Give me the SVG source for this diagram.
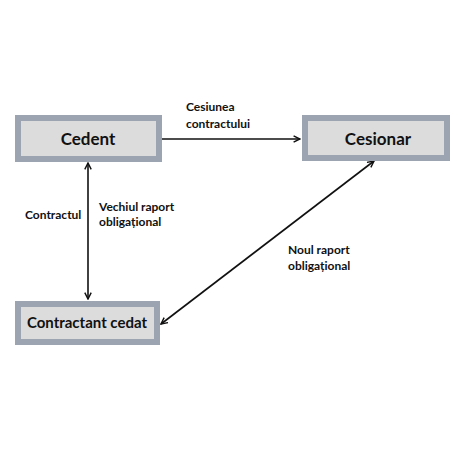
<svg xmlns="http://www.w3.org/2000/svg" width="474" height="474" viewBox="0 0 474 474">
<style>
.box{fill:#dcdcdc;stroke:#9ba4b0;stroke-width:6}
.nt{font-family:Lato,"Open Sans",sans-serif;font-weight:bold;font-size:17px;fill:#111;text-anchor:middle}
.lb{font-family:Lato,"Open Sans",sans-serif;font-weight:bold;font-size:12px;fill:#111}
.ln{stroke:#111;stroke-width:1.6;fill:none}
</style>
<defs>
<marker id="ah" viewBox="0 0 10 10" refX="9" refY="5" markerWidth="8" markerHeight="8" orient="auto-start-reverse" markerUnits="userSpaceOnUse">
<path d="M1,1 L9,5 L1,9" fill="none" stroke="#111" stroke-width="1.8"/>
</marker>
</defs>
<rect width="474" height="474" fill="#fff"/>
<g id="connectors">
<line class="ln" x1="162" y1="139" x2="300" y2="139" marker-end="url(#ah)"/>
<line class="ln" x1="88" y1="163" x2="88" y2="299" marker-start="url(#ah)" marker-end="url(#ah)"/>
<line class="ln" x1="374" y1="161" x2="161" y2="324" marker-start="url(#ah)" marker-end="url(#ah)"/>
</g>
<g id="cedent">
<rect class="box" x="18" y="118" width="141" height="41"/>
<text class="nt" x="88" y="145">Cedent</text>
</g>
<g id="cesionar">
<rect class="box" x="305" y="118" width="142" height="40"/>
<text class="nt" x="378" y="145">Cesionar</text>
</g>
<g id="contractant">
<rect class="box" x="18" y="304" width="139" height="38"/>
<text class="nt" x="87" y="328" style="font-size:15px">Contractant cedat</text>
</g>
<g id="labels">
<text class="lb" x="186" y="111">Cesiunea</text>
<text class="lb" x="186" y="128">contractului</text>
<text class="lb" x="25" y="219">Contractul</text>
<text class="lb" x="99" y="211">Vechiul raport</text>
<text class="lb" x="99" y="226">obligațional</text>
<text class="lb" x="288" y="254">Noul raport</text>
<text class="lb" x="288" y="270">obligațional</text>
</g>
</svg>
